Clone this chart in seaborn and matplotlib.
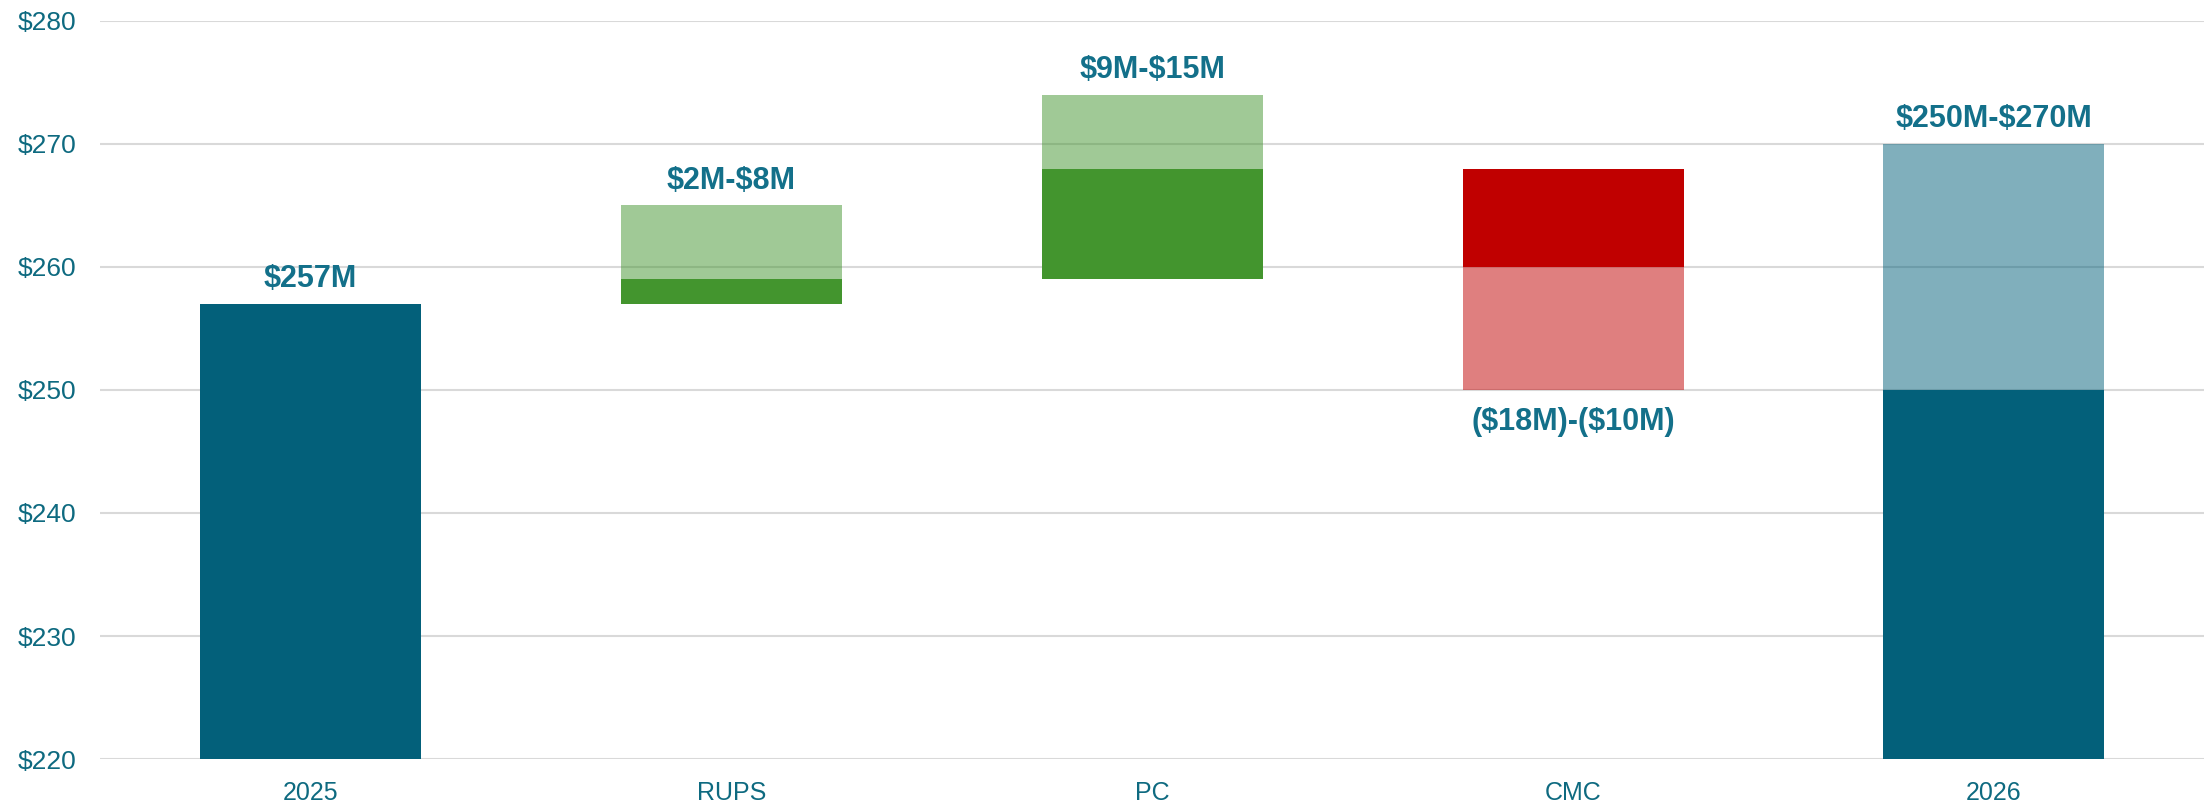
import pandas as pd
import numpy as np
import seaborn as sns
import matplotlib.pyplot as plt

# %%
categories = ["2025", "RUPS", "PC", "CMC", "2026"]
# solid part of each bar: bottom / top
solid_bottom = [220, 257, 259, 260, 220]
solid_top = [257, 259, 268, 268, 250]
# light (range) part of each bar: bottom / top, equal values = no bar
range_bottom = [257, 259, 268, 250, 250]
range_top = [257, 265, 274, 260, 270]
labels = ["$257M", "$2M-$8M", "$9M-$15M", "($18M)-($10M)", "$250M-$270M"]
label_above = [True, True, True, False, True]

# --- Colors
teal = "#03607A"
green = "#43952E"
red = "#C00000"
bar_colors = [teal, green, green, red, teal]
text_color = "#13708A"
tick_color = "#0E6A80"

df = pd.DataFrame({
    "cat": categories,
    "solid_bottom": solid_bottom,
    "solid_h": np.array(solid_top) - np.array(solid_bottom),
    "range_bottom": range_bottom,
    "range_h": np.array(range_top) - np.array(range_bottom),
})

sns.set_style("white")
plt.rcParams["font.family"] = ["Liberation Sans", "DejaVu Sans"]
plt.rcParams["text.parse_math"] = False

fig = plt.figure(figsize=(22.11, 8.06), dpi=100)
ax = fig.add_axes([0.0452, 0.0583, 0.9518, 0.9157])

# one call per category so each bar gets its own bottom and colour
for i, cat in enumerate(categories):
    row = df.iloc[[i]]
    sns.barplot(data=row, x="cat", y="solid_h", order=categories, color=bar_colors[i],
                bottom=solid_bottom[i], width=0.525, saturation=1, linewidth=0, ax=ax)
    if range_top[i] > range_bottom[i]:
        sns.barplot(data=row, x="cat", y="range_h", order=categories, color=bar_colors[i],
                    bottom=range_bottom[i], width=0.525, saturation=1, linewidth=0,
                    alpha=0.5, ax=ax)

# value labels
for i, (lab, above) in enumerate(zip(labels, label_above)):
    if above:
        y = max(solid_top[i], range_top[i])
        ax.annotate(lab, (i, y), xytext=(0, 7), textcoords="offset points",
                    ha="center", va="bottom", fontsize=22, fontweight="bold", color=text_color)
    else:
        y = min(solid_bottom[i], range_bottom[i])
        ax.annotate(lab, (i, y), xytext=(0, -12), textcoords="offset points",
                    ha="center", va="top", fontsize=22, fontweight="bold", color=text_color)

ax.set_ylim(220, 280)
ax.set_xlim(-0.5, 4.5)
ax.set_yticks(np.arange(220, 281, 10))
ax.set_yticklabels([f"${v}" for v in range(220, 281, 10)])
ax.yaxis.grid(True, color="#D9D9D9", linewidth=1.5)
ax.set_axisbelow(True)
ax.tick_params(axis="both", length=0, labelcolor=tick_color)
ax.tick_params(axis="y", pad=17, labelsize=19)
ax.tick_params(axis="x", pad=16, labelsize=18)
ax.set_xlabel("")
ax.set_ylabel("")
sns.despine(ax=ax, left=True, bottom=True)

plt.savefig("out.png", dpi=100)
